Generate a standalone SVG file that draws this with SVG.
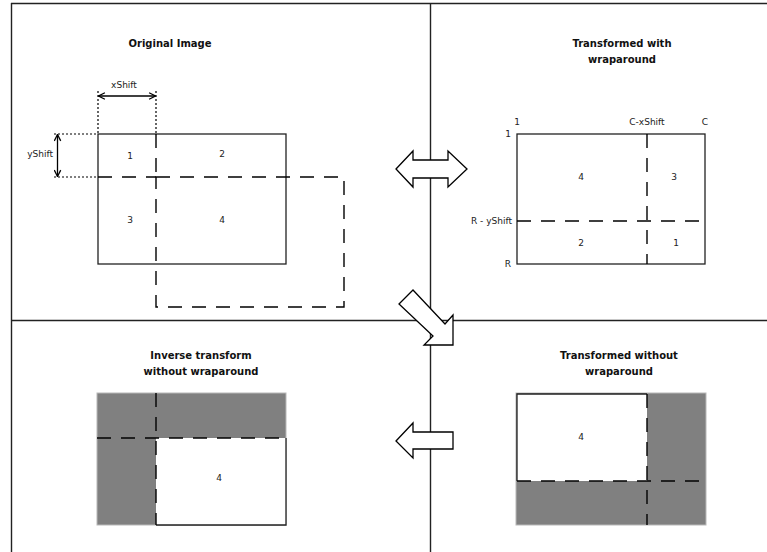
<svg xmlns="http://www.w3.org/2000/svg" width="767" height="552" viewBox="0 0 767 552">
<style>
  .frame{stroke:#222;stroke-width:1.4;fill:none}
  .solid{stroke:#222;stroke-width:1.3;fill:none}
  .dash{stroke:#000;stroke-width:1.4;fill:none;stroke-dasharray:14 10}
  .dot{stroke:#000;stroke-width:1.2;fill:none;stroke-dasharray:2 2}
  .gray{fill:#808080;stroke:#b8b8b8;stroke-width:1}
  .white{fill:#fff;stroke:none}
  .title{font-family:"DejaVu Sans",sans-serif;font-size:10px;font-weight:bold;fill:#111;text-anchor:middle}
  .lbl{font-family:"DejaVu Sans",sans-serif;font-size:9px;fill:#222;text-anchor:middle}
  .lblr{font-family:"DejaVu Sans",sans-serif;font-size:9px;fill:#222;text-anchor:end}
  .block{fill:#fff;stroke:#000;stroke-width:1.3;stroke-linejoin:miter}
  .dim{stroke:#000;stroke-width:1.3;fill:none;marker-start:url(#v);marker-end:url(#v)}
</style>
<defs>
  <marker id="v" viewBox="0 0 10 10" refX="9" refY="5" markerWidth="8" markerHeight="8" markerUnits="userSpaceOnUse" orient="auto-start-reverse">
    <path d="M1,1 L9,5 L1,9" fill="none" stroke="#000" stroke-width="1.6"/>
  </marker>
</defs>
<rect width="767" height="552" fill="#fff"/>
<g id="frame">
  <line class="frame" x1="11" y1="3.5" x2="767" y2="3.5"/>
  <line class="frame" x1="11.5" y1="3" x2="11.5" y2="552"/>
  <line class="frame" x1="430.5" y1="3" x2="430.5" y2="552"/>
  <line class="frame" x1="11" y1="320.5" x2="767" y2="320.5"/>
</g>
<g id="original-image">
  <text class="title" x="170" y="47">Original Image</text>
  <rect class="solid" x="98" y="134" width="188" height="130"/>
  <rect class="dash" x="156" y="177" width="188" height="130"/>
  <line class="dash" x1="156" y1="134" x2="156" y2="177"/>
  <line class="dash" x1="98" y1="177" x2="156" y2="177"/>
  <line class="dot" x1="98" y1="91" x2="98" y2="134"/>
  <line class="dot" x1="156" y1="91" x2="156" y2="134"/>
  <line class="dot" x1="54" y1="134" x2="98" y2="134"/>
  <line class="dot" x1="54" y1="177" x2="98" y2="177"/>
  <line class="dim" x1="98.5" y1="96" x2="155.5" y2="96"/>
  <line class="dim" x1="57.5" y1="134.5" x2="57.5" y2="176.5"/>
  <text class="lbl" x="124" y="88">xShift</text>
  <text class="lblr" x="53" y="157">yShift</text>
  <text class="lbl" x="130" y="159">1</text>
  <text class="lbl" x="222" y="157">2</text>
  <text class="lbl" x="130" y="223">3</text>
  <text class="lbl" x="222" y="223">4</text>
</g>
<g id="transformed-with-wraparound">
  <text class="title" x="622" y="47">Transformed with</text>
  <text class="title" x="622" y="63">wraparound</text>
  <rect class="solid" x="517" y="134" width="188" height="130"/>
  <line class="dash" x1="647" y1="134" x2="647" y2="264"/>
  <line class="dash" x1="517" y1="221" x2="705" y2="221"/>
  <text class="lbl" x="517" y="125">1</text>
  <text class="lbl" x="647" y="125">C-xShift</text>
  <text class="lbl" x="705" y="125">C</text>
  <text class="lblr" x="511" y="137">1</text>
  <text class="lblr" x="512" y="224">R - yShift</text>
  <text class="lblr" x="511" y="267">R</text>
  <text class="lbl" x="581" y="180">4</text>
  <text class="lbl" x="674" y="180">3</text>
  <text class="lbl" x="581" y="246">2</text>
  <text class="lbl" x="676" y="246">1</text>
</g>
<g id="inverse-transform">
  <text class="title" x="201" y="359">Inverse transform</text>
  <text class="title" x="201" y="375">without wraparound</text>
  <rect class="gray" x="97" y="393" width="189" height="132"/>
  <rect class="white" x="156" y="438" width="130" height="87"/>
  <polyline class="solid" points="286,438 286,525 156,525"/>
  <line class="dash" x1="97" y1="438" x2="286" y2="438"/>
  <line class="dash" x1="156" y1="393" x2="156" y2="525"/>
  <text class="lbl" x="219" y="481">4</text>
</g>
<g id="transformed-without-wraparound">
  <text class="title" x="619" y="359">Transformed without</text>
  <text class="title" x="619" y="375">wraparound</text>
  <rect class="gray" x="516" y="393" width="190" height="132"/>
  <rect class="white" x="517" y="394" width="130" height="87"/>
  <polyline class="solid" points="517,481 517,394 647,394"/>
  <line class="dash" x1="647" y1="394" x2="647" y2="525"/>
  <line class="dash" x1="517" y1="481" x2="706" y2="481"/>
  <text class="lbl" x="581" y="440">4</text>
</g>
<g id="connectors">
  <polygon class="block" points="396,169 413,151 413,160 448,160 448,151 467,169 448,187 448,178 413,178 413,187"/>
  <polygon class="block" points="413,290 445,324 453,315 453,345 424,345 433,336 399,304"/>
  <polygon class="block" points="396,441 413,423 413,432 453,432 453,449 413,449 413,458"/>
</g>
</svg>
